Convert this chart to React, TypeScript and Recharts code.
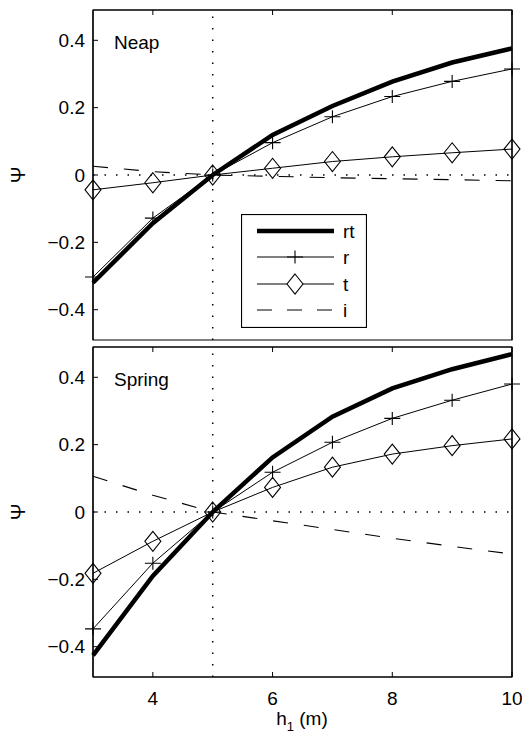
import React from 'react';
import { LineChart, Line, XAxis, YAxis, ReferenceLine, ReferenceArea, Legend } from 'recharts';

const hValues = [3, 4, 5, 6, 7, 8, 9, 10];
const seriesNames = ['rt', 'r', 't', 'i'];
const xTicks = [4, 6, 8, 10];
const yTicks = [-0.4, -0.2, 0, 0.2, 0.4];

const neapRt = [-0.32, -0.143, 0, 0.119, 0.205, 0.277, 0.334, 0.376];
const neapR = [-0.303, -0.128, 0, 0.096, 0.173, 0.233, 0.278, 0.315];
const neapT = [-0.044, -0.023, 0, 0.02, 0.04, 0.054, 0.066, 0.077];
const neapI = [0.026, 0.01, 0, -0.004, -0.008, -0.011, -0.014, -0.017];

const springRt = [-0.426, -0.19, 0, 0.162, 0.283, 0.367, 0.424, 0.469];
const springR = [-0.347, -0.152, 0, 0.118, 0.207, 0.278, 0.332, 0.38];
const springT = [-0.182, -0.087, 0, 0.073, 0.133, 0.172, 0.197, 0.217];
const springI = [0.106, 0.05, 0, -0.026, -0.052, -0.078, -0.102, -0.125];

const build = (rt: number[], r: number[], t: number[], i: number[]) =>
  hValues.map((h, k) => ({ h, rt: rt[k], r: r[k], t: t[k], i: i[k] }));

const neapData = build(neapRt, neapR, neapT, neapI);
const springData = build(springRt, springR, springT, springI);

const FONT = '"Liberation Sans", Arial, Helvetica, sans-serif';
const FS = 19;
const DOMAIN: [number, number] = [-0.49, 0.49];

const fmtY = (v: number) => (v === 0 ? '0' : (v < 0 ? '\u2212' : '') + Math.abs(v).toFixed(1));

const plusPath = (cx: number, cy: number) => `M${cx - 8},${cy}H${cx + 8}M${cx},${cy - 6.5}V${cy + 6.5}`;
const diamondPath = (cx: number, cy: number) =>
  `M${cx},${cy - 10}L${cx + 8},${cy}L${cx},${cy + 10}L${cx - 8},${cy}Z`;

const PlusDot = (props: any) => {
  const { cx, cy, index } = props;
  if (cx == null || cy == null) return <g key={`p${index}`} />;
  return <path key={`p${index}`} d={plusPath(cx, cy)} stroke="#000" strokeWidth={1.1} fill="none" />;
};
const DiamondDot = (props: any) => {
  const { cx, cy, index } = props;
  if (cx == null || cy == null) return <g key={`d${index}`} />;
  return <path key={`d${index}`} d={diamondPath(cx, cy)} stroke="#000" strokeWidth={1.1} fill="none" />;
};

const LegendBox = () => {
  const rows = [17, 43, 70, 96];
  return (
    <svg width={126} height={114} style={{ display: 'block', fontFamily: FONT }}>
      <rect x={0.5} y={0.5} width={125} height={113} fill="#fff" stroke="#000" strokeWidth={1.2} />
      <line x1={16} x2={93} y1={rows[0]} y2={rows[0]} stroke="#000" strokeWidth={4.5} />
      <line x1={16} x2={93} y1={rows[1]} y2={rows[1]} stroke="#000" strokeWidth={1} />
      <path d={plusPath(54, rows[1])} stroke="#000" strokeWidth={1.1} fill="none" />
      <line x1={16} x2={46} y1={rows[2]} y2={rows[2]} stroke="#000" strokeWidth={1} />
      <line x1={62} x2={93} y1={rows[2]} y2={rows[2]} stroke="#000" strokeWidth={1} />
      <path d={diamondPath(54, rows[2])} stroke="#000" strokeWidth={1.1} fill="none" />
      <line x1={16} x2={93} y1={rows[3]} y2={rows[3]} stroke="#000" strokeWidth={1} strokeDasharray="15 15" />
      {seriesNames.map((n, k) => (
        <text key={n} x={102} y={rows[k] + 7} fontSize={FS} fill="#000">
          {n}
        </text>
      ))}
    </svg>
  );
};

const Panel = ({
  data,
  name,
  height,
  top,
  bottomAxisHeight,
  showX,
  showLegend,
}: {
  data: any[];
  name: string;
  height: number;
  top: number;
  bottomAxisHeight: number;
  showX: boolean;
  showLegend: boolean;
}) => {
  const plotTop = top;
  const plotBottom = height - bottomAxisHeight - (showX ? 0 : 10);
  const midY = (plotTop + plotBottom) / 2;
  return (
    <LineChart
      width={522}
      height={height}
      data={data}
      margin={{ top: top - 1, right: 9, bottom: showX ? 0 : 10, left: 0 }}
      style={{ fontFamily: FONT }}
    >
      <XAxis
        xAxisId="b"
        dataKey="h"
        type="number"
        domain={[3, 10]}
        ticks={xTicks}
        height={bottomAxisHeight}
        tickSize={-5}
        tickMargin={showX ? 20 : 0}
        tickFormatter={showX ? (v: number) => String(v) : () => ''}
        tick={{ fill: '#000', fontSize: FS }}
        axisLine={{ stroke: '#000', strokeWidth: 1.2 }}
        tickLine={{ stroke: '#000' }}
      />
      <XAxis
        xAxisId="t"
        orientation="top"
        dataKey="h"
        type="number"
        domain={[3, 10]}
        ticks={xTicks}
        height={1}
        tickSize={-5}
        tickFormatter={() => ''}
        axisLine={{ stroke: '#000', strokeWidth: 1.2 }}
        tickLine={{ stroke: '#000' }}
      />
      <YAxis
        yAxisId="l"
        type="number"
        domain={DOMAIN}
        ticks={yTicks}
        width={93}
        tickSize={-5}
        tickMargin={13}
        tickFormatter={fmtY}
        tick={{ fill: '#000', fontSize: FS }}
        axisLine={{ stroke: '#000', strokeWidth: 1.2 }}
        tickLine={{ stroke: '#000' }}
      />
      <YAxis
        yAxisId="r"
        orientation="right"
        type="number"
        domain={DOMAIN}
        ticks={yTicks}
        width={1}
        tickSize={-5}
        tickFormatter={() => ''}
        axisLine={{ stroke: '#000', strokeWidth: 1.2 }}
        tickLine={{ stroke: '#000' }}
      />
      <ReferenceArea
        xAxisId="b"
        yAxisId="l"
        x1={3}
        x2={10}
        y1={DOMAIN[0]}
        y2={DOMAIN[1]}
        fill="none"
        fillOpacity={0}
        stroke="#000"
        strokeWidth={1.2}
        ifOverflow="visible"
      />
      <ReferenceLine xAxisId="b" yAxisId="l" x={5} stroke="#000" strokeWidth={1.5} strokeDasharray="1.5 10" />
      <ReferenceLine xAxisId="b" yAxisId="l" y={0} stroke="#000" strokeWidth={1.5} strokeDasharray="1.5 10" />
      <Line
        xAxisId="b"
        yAxisId="l"
        dataKey="i"
        stroke="#000"
        strokeWidth={1.1}
        strokeDasharray="15 16"
        dot={false}
        isAnimationActive={false}
      />
      <Line
        xAxisId="b"
        yAxisId="l"
        dataKey="t"
        stroke="#000"
        strokeWidth={1}
        dot={DiamondDot}
        isAnimationActive={false}
      />
      <Line
        xAxisId="b"
        yAxisId="l"
        dataKey="r"
        stroke="#000"
        strokeWidth={1}
        dot={PlusDot}
        isAnimationActive={false}
      />
      <Line
        xAxisId="b"
        yAxisId="l"
        dataKey="rt"
        stroke="#000"
        strokeWidth={4.5}
        dot={false}
        isAnimationActive={false}
      />
      {showLegend && (
        <Legend
          layout="vertical"
          align="center"
          verticalAlign="middle"
          width={126}
          height={114}
          content={() => <LegendBox />}
          wrapperStyle={{ left: 241, top: 214, width: 126, height: 114 }}
        />
      )}
      <text x={114} y={plotTop + 39} fontSize={FS} fill="#000" fontFamily={FONT}>
        {name}
      </text>
      <text
        x={18}
        y={midY}
        fontSize={FS + 1}
        fill="#000"
        fontFamily={FONT}
        textAnchor="middle"
        dominantBaseline="central"
        transform={`rotate(-90 18 ${midY})`}
      >
        Ψ
      </text>
      {showX && (
        <text x={302} y={height - 20} fontSize={FS} fill="#000" fontFamily={FONT} textAnchor="middle">
          h
          <tspan fontSize={13} dy={6}>
            1
          </tspan>
          <tspan dy={-6}> (m)</tspan>
        </text>
      )}
    </LineChart>
  );
};

export default function App() {
  return (
    <div style={{ position: 'absolute', left: 0, top: 0, width: 522, height: 745, background: '#fff' }}>
      <div style={{ position: 'absolute', left: 0, top: 0 }}>
        <Panel data={neapData} name="Neap" height={350} top={10} bottomAxisHeight={0} showX={false} showLegend />
      </div>
      <div style={{ position: 'absolute', left: 0, top: 340 }}>
        <Panel data={springData} name="Spring" height={405} top={7} bottomAxisHeight={68} showX showLegend={false} />
      </div>
    </div>
  );
}
